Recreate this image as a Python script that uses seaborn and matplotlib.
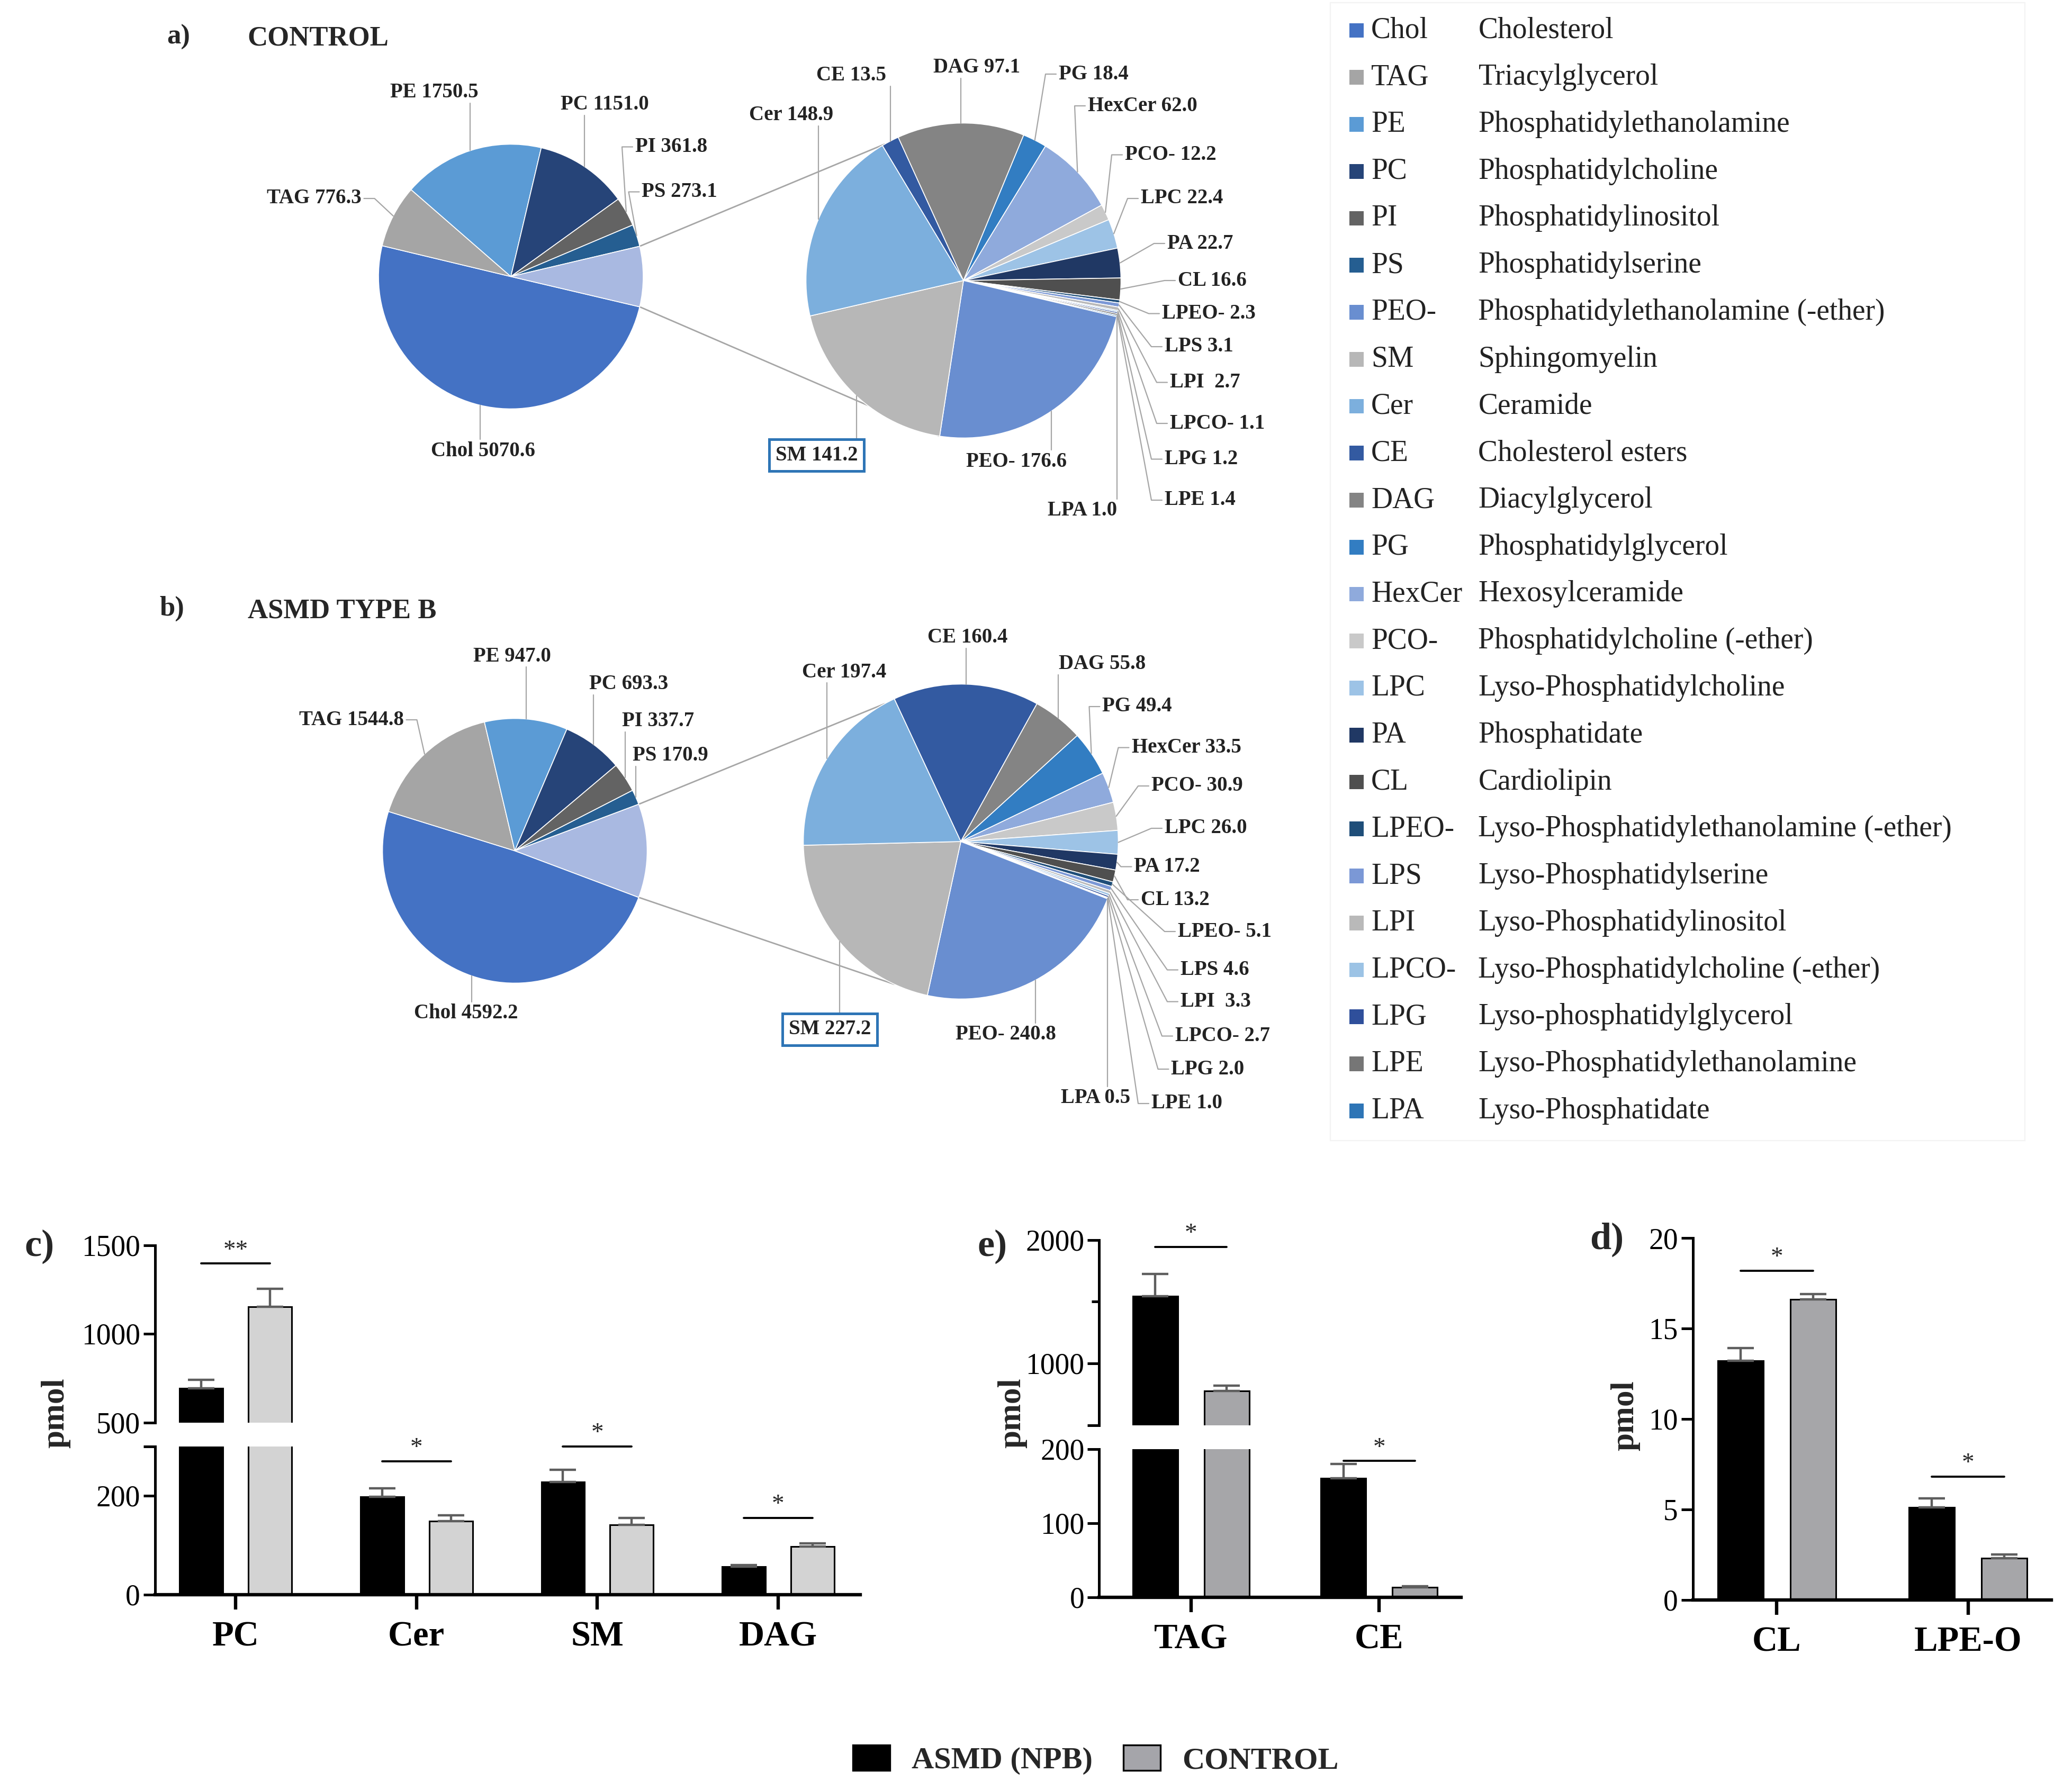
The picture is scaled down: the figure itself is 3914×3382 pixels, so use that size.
import matplotlib.pyplot as plt
import numpy as np
import pandas as pd
import seaborn as sns
from matplotlib.patches import Patch, Rectangle

# ---------------------------------------------------------------- data
main_lipids = ["Chol", "TAG", "PE", "PC", "PI", "PS"]
control_main = [5070.6, 776.3, 1750.5, 1151.0, 361.8, 273.1]
asmd_main = [4592.2, 1544.8, 947.0, 693.3, 337.7, 170.9]

minor_lipids = ["CE", "DAG", "PG", "HexCer", "PCO-", "LPC", "PA", "CL", "LPEO-",
                "LPS", "LPI", "LPCO-", "LPG", "LPE", "LPA", "PEO-", "SM", "Cer"]
control_minor = [13.5, 97.1, 18.4, 62.0, 12.2, 22.4, 22.7, 16.6, 2.3,
                 3.1, 2.7, 1.1, 1.2, 1.4, 1.0, 176.6, 141.2, 148.9]
asmd_minor = [160.4, 55.8, 49.4, 33.5, 30.9, 26.0, 17.2, 13.2, 5.1,
              4.6, 3.3, 2.7, 2.0, 1.0, 0.5, 240.8, 227.2, 197.4]

legend_abbr = ["Chol", "TAG", "PE", "PC", "PI", "PS", "PEO-", "SM", "Cer", "CE",
               "DAG", "PG", "HexCer", "PCO-", "LPC", "PA", "CL", "LPEO-", "LPS",
               "LPI", "LPCO-", "LPG", "LPE", "LPA"]
legend_names = ["Cholesterol", "Triacylglycerol", "Phosphatidylethanolamine",
                "Phosphatidylcholine", "Phosphatidylinositol", "Phosphatidylserine",
                "Phosphatidylethanolamine (-ether)", "Sphingomyelin", "Ceramide",
                "Cholesterol esters", "Diacylglycerol", "Phosphatidylglycerol",
                "Hexosylceramide", "Phosphatidylcholine (-ether)",
                "Lyso-Phosphatidylcholine", "Phosphatidate", "Cardiolipin",
                "Lyso-Phosphatidylethanolamine (-ether)", "Lyso-Phosphatidylserine",
                "Lyso-Phosphatidylinositol", "Lyso-Phosphatidylcholine (-ether)",
                "Lyso-phosphatidylglycerol", "Lyso-Phosphatidylethanolamine",
                "Lyso-Phosphatidate"]

groups = ["ASMD (NPB)", "CONTROL"]

c_lipids = ["PC", "Cer", "SM", "DAG"]
c_asmd = [693.3, 197.4, 227.2, 55.8]
c_asmd_err = [46, 17, 25, 4]
c_ctrl = [1151.0, 148.9, 141.2, 97.1]
c_ctrl_err = [103, 11, 14, 6]
c_sig_y = [1396, 270, 300, 155]
c_sig = ["**", "*", "*", "*"]

e_lipids = ["TAG", "CE"]
e_asmd = [1544.8, 160.4]
e_asmd_err = [178, 19]
e_ctrl = [776.3, 13.5]
e_ctrl_err = [42, 1.5]
e_sig_y = [1942, 209]
e_sig = ["*", "*"]

d_lipids = ["CL", "LPE-O"]
d_asmd = [13.2, 5.1]
d_asmd_err = [0.7, 0.5]
d_ctrl = [16.6, 2.3]
d_ctrl_err = [0.3, 0.2]
d_sig_y = [18.2, 6.8]
d_sig = ["*", "*"]

LIPID_COLORS = {
    "Chol": "#4472C4", "TAG": "#A5A5A5", "PE": "#5B9BD5", "PC": "#264478",
    "PI": "#636363", "PS": "#255E91", "PEO-": "#698ED0", "SM": "#B7B7B7",
    "Cer": "#7CAFDD", "CE": "#335AA1", "DAG": "#848484", "PG": "#327DC2",
    "HexCer": "#8FAADC", "PCO-": "#C9C9C9", "LPC": "#9DC3E6", "PA": "#203864",
    "CL": "#4F4F4F", "LPEO-": "#1F4E79", "LPS": "#7B98D6", "LPI": "#B9B9B9",
    "LPCO-": "#9CC3E5", "LPG": "#2F4F9B", "LPE": "#767676", "LPA": "#2E75B6",
}
OTHER_COLOR = "#A9B9E1"

# ---------------------------------------------------------------- layout
W, H = 1565.6, 1352.8      # layout grid: reference pixels / 2.5
LEADER = "#A6A6A6"

LAYOUT_A_MAIN = {
    "PE": (328, 70, "center", "down"), "PC": (457, 79, "center", "down"),
    "PI": (480, 111, "left", "side"), "PS": (485, 145, "left", "side"),
    "TAG": (273, 150, "right", "side"), "Chol": (365, 341, "center", "up"),
}
LAYOUT_A_MINOR = {
    "Cer": (598, 87, "center", "down"), "CE": (643, 57, "center", "down"),
    "DAG": (738, 51, "center", "down"), "PG": (800, 56, "left", "side"),
    "HexCer": (822, 80, "left", "side"), "PCO-": (850, 117, "left", "side"),
    "LPC": (862, 150, "left", "side"), "PA": (882, 184, "left", "side"),
    "CL": (890, 212, "left", "side"), "LPEO-": (878, 237, "left", "side"),
    "LPS": (880, 262, "left", "side"), "LPI": (884, 289, "left", "side"),
    "LPCO-": (884, 320, "left", "side"), "LPG": (880, 347, "left", "side"),
    "LPE": (880, 378, "left", "side"), "LPA": (818, 386, "center", "up"),
    "PEO-": (768, 349, "center", "up"), "SM": (617, 344, "center", "up"),
}
LAYOUT_B_MAIN = {
    "PE": (387, 496, "center", "down"), "PC": (475, 517, "center", "down"),
    "PI": (470, 545, "left", "down"), "PS": (478, 571, "left", "down"),
    "TAG": (305, 544, "right", "side"), "Chol": (352, 766, "center", "up"),
}
LAYOUT_B_MINOR = {
    "Cer": (638, 508, "center", "down"), "CE": (731, 482, "center", "down"),
    "DAG": (800, 502, "left", "down"), "PG": (833, 534, "left", "side"),
    "HexCer": (855, 565, "left", "side"), "PCO-": (870, 594, "left", "side"),
    "LPC": (880, 626, "left", "side"), "PA": (857, 655, "left", "side"),
    "CL": (862, 680, "left", "side"), "LPEO-": (890, 704, "left", "side"),
    "LPS": (892, 733, "left", "side"), "LPI": (892, 757, "left", "side"),
    "LPCO-": (888, 783, "left", "side"), "LPG": (885, 808, "left", "side"),
    "LPE": (870, 834, "left", "side"), "LPA": (828, 830, "center", "up"),
    "PEO-": (760, 782, "center", "up"), "SM": (627, 778, "center", "up"),
}


def Y(y):
    return H - y


def fig_rect(x0, x1, y_top, y_bot):
    return [x0 / W, 1 - y_bot / H, (x1 - x0) / W, (y_bot - y_top) / H]


def pie_label(name, value):
    sep = "  " if name == "LPI" else " "
    return f"{name}{sep}{value:.1f}"


def draw_pie(ax, names, values, center, radius, start, colors, layout):
    cx, cy = center[0], Y(center[1])
    wedges, _ = ax.pie(values, colors=colors, center=(cx, cy), radius=radius,
                       startangle=start, counterclock=False, frame=True,
                       wedgeprops=dict(edgecolor="white", linewidth=0.6))
    for w, name, val in zip(wedges, names, values):
        if name not in layout:
            continue
        tx, ty, ha, mode = layout[name]
        ty = Y(ty)
        mid = np.deg2rad((w.theta1 + w.theta2) / 2)
        ex, ey = cx + radius * np.cos(mid), cy + radius * np.sin(mid)
        boxed = name == "SM"
        if mode == "down":
            xs, ys = [ex, ex], [ty - 8, ey]
        elif mode == "up":
            xs, ys = [ex, ex], [ty + (13 if boxed else 9), ey]
        else:
            sgn = -1 if ha == "left" else 1
            xs, ys = [ex, tx + sgn * 10, tx + sgn * 2], [ey, ty, ty]
        ax.plot(xs, ys, color=LEADER, lw=0.8, zorder=1)
        kw = {}
        if boxed:
            kw["bbox"] = dict(boxstyle="square,pad=0.3", fc="white", ec="#2E75B6", lw=1.8)
        ax.text(tx, ty, pie_label(name, val), ha=ha, va="center", fontsize=14,
                fontweight="bold", color="#222222", **kw)
    return wedges


def bar_pie(ax, main_vals, minor_vals, c_left, c_right, top_ang, bot_ang,
            lay_main, lay_minor, minor_start):
    r_l, r_r = 100, 119
    vals = main_vals + [sum(minor_vals)]
    names = main_lipids + ["other"]
    cols = [LIPID_COLORS[n] for n in main_lipids] + [OTHER_COLOR]
    other_deg = 360 * vals[-1] / sum(vals)
    wl = draw_pie(ax, names, vals, c_left, r_l, -other_deg / 2, cols, lay_main)
    draw_pie(ax, minor_lipids, minor_vals, c_right, r_r, minor_start,
             [LIPID_COLORS[n] for n in minor_lipids], lay_minor)
    other = wl[-1]
    for a_l, a_r in ((other.theta2, top_ang), (other.theta1, bot_ang)):
        al, ar = np.deg2rad(a_l), np.deg2rad(a_r)
        ax.plot([c_left[0] + r_l * np.cos(al), c_right[0] + r_r * np.cos(ar)],
                [Y(c_left[1]) + r_l * np.sin(al), Y(c_right[1]) + r_r * np.sin(ar)],
                color=LEADER, lw=1.0, zorder=0)


def bar_panel(axes, lipids, asmd, asmd_err, ctrl, ctrl_err, ctrl_color):
    n = len(lipids)
    df = pd.DataFrame({"lipid": lipids * 2,
                       "group": [groups[0]] * n + [groups[1]] * n,
                       "value": asmd + ctrl})
    err = np.array(asmd_err + ctrl_err, dtype=float)
    xs = None
    for ax in axes:
        sns.barplot(data=df, x="lipid", y="value", hue="group", order=lipids,
                    hue_order=groups, palette=["black", ctrl_color], width=0.76,
                    gap=0.37, errorbar=None, edgecolor="black", linewidth=1.1,
                    legend=False, ax=ax)
        xs = [p.get_x() + p.get_width() / 2 for p in ax.patches[:2 * n]]
        ax.errorbar(xs, df["value"], yerr=[np.zeros(2 * n), err], fmt="none",
                    ecolor="#5E5E5E", elinewidth=1.6, capsize=9, capthick=1.6)
        ax.set_xlabel("")
        ax.set_ylabel("")
        ax.set_facecolor("none")
        sns.despine(ax=ax)
        ax.spines["left"].set_linewidth(1.8)
        ax.spines["bottom"].set_linewidth(2.3)
        ax.tick_params(axis="y", width=1.8, length=8, labelsize=20, pad=2)
    return xs


def add_sig(axes, xs, sig_y, sig):
    n = len(sig_y)
    for i, (yv, s) in enumerate(zip(sig_y, sig)):
        ax = axes[-1]
        if len(axes) > 1 and yv > axes[-1].get_ylim()[1] + 1e-9:
            ax = axes[0]
        ax.plot([xs[i], xs[i + n]], [yv, yv], color="black", lw=1.4, clip_on=False)
        ax.annotate(s, xy=((xs[i] + xs[i + n]) / 2, yv), xytext=(0, 1),
                    textcoords="offset points", ha="center", va="bottom",
                    fontsize=17, annotation_clip=False)


def style_upper(ax):
    ax.spines["bottom"].set_visible(False)
    ax.tick_params(axis="x", bottom=False, labelbottom=False)


def style_lower(ax):
    ax.tick_params(axis="x", width=2.3, length=10, labelsize=24, pad=8)
    for t in ax.get_xticklabels():
        t.set_fontweight("bold")


sns.set_theme(style="ticks")
plt.rcParams["font.family"] = ["Liberation Serif", "DejaVu Serif"]
plt.rcParams["axes.edgecolor"] = "black"
plt.rcParams["xtick.color"] = "black"
plt.rcParams["ytick.color"] = "black"

fig = plt.figure(figsize=(19.57, 16.91), dpi=200)

# ---------------------------------------------------------------- pies + legend
ax0 = fig.add_axes([0, 0, 1, 1])
bar_pie(ax0, control_main, control_minor, (386, 209), (728, 212), 120, -99,
        LAYOUT_A_MAIN, LAYOUT_A_MINOR, 121)
bar_pie(ax0, asmd_main, asmd_minor, (389, 643), (726, 636), 119, -115,
        LAYOUT_B_MAIN, LAYOUT_B_MINOR, 115)

ax0.text(135, Y(28), "a)", ha="center", va="center", fontsize=19, fontweight="bold")
ax0.text(187, Y(29), "CONTROL", ha="left", va="center", fontsize=19, fontweight="bold")
ax0.text(130, Y(460), "b)", ha="center", va="center", fontsize=19, fontweight="bold")
ax0.text(187, Y(462), "ASMD TYPE B", ha="left", va="center", fontsize=19, fontweight="bold")

ax0.add_patch(Rectangle((1005, Y(862)), 525, 860, fill=False, ec="#F3F3F3", lw=0.8))
leg_y = [Y(23 + i * 35.5) for i in range(len(legend_abbr))]
ax0.scatter([1025] * len(legend_abbr), leg_y, marker="s", s=100,
            c=[LIPID_COLORS[a] for a in legend_abbr], linewidths=0)
for yy, ab, nm in zip(leg_y, legend_abbr, legend_names):
    ax0.text(1036, yy, ab, ha="left", va="center", fontsize=20, color="#222222")
    ax0.text(1117, yy, nm, ha="left", va="center", fontsize=20, color="#222222")

ax0.set_xlim(0, W)
ax0.set_ylim(0, H)
ax0.set_aspect("auto")
ax0.axis("off")

# ---------------------------------------------------------------- c)
axc_up = fig.add_axes(fig_rect(117, 650, 941, 1075))
axc_lo = fig.add_axes(fig_rect(117, 650, 1093, 1205))
xs_c = bar_panel([axc_up, axc_lo], c_lipids, c_asmd, c_asmd_err, c_ctrl, c_ctrl_err,
                 "#D3D3D3")
for ax in (axc_up, axc_lo):
    ax.set_xlim(-0.447, 3.454)
axc_up.set_ylim(500, 1500)
axc_up.set_yticks([500, 1000, 1500])
axc_lo.set_ylim(0, 300)
axc_lo.set_yticks([0, 200, 300], ["0", "200", ""])
style_upper(axc_up)
style_lower(axc_lo)
add_sig([axc_up, axc_lo], xs_c, c_sig_y, c_sig)

# ---------------------------------------------------------------- e)
axe_up = fig.add_axes(fig_rect(830.5, 1104, 937, 1077))
axe_lo = fig.add_axes(fig_rect(830.5, 1104, 1095, 1207))
xs_e = bar_panel([axe_up, axe_lo], e_lipids, e_asmd, e_asmd_err, e_ctrl, e_ctrl_err,
                 "#A5A5AA")
for ax in (axe_up, axe_lo):
    ax.set_xlim(-0.488, 1.435)
axe_up.set_ylim(500, 2000)
axe_up.set_yticks([500, 1000, 2000], ["", "1000", "2000"])
axe_up.set_yticks([1500], minor=True)
axe_up.tick_params(axis="y", which="minor", width=1.8, length=5)
axe_lo.set_ylim(0, 200)
axe_lo.set_yticks([0, 100, 200])
style_upper(axe_up)
style_lower(axe_lo)
add_sig([axe_up, axe_lo], xs_e, e_sig_y, e_sig)

# ---------------------------------------------------------------- d)
axd = fig.add_axes(fig_rect(1279, 1550, 935.6, 1209))
xs_d = bar_panel([axd], d_lipids, d_asmd, d_asmd_err, d_ctrl, d_ctrl_err, "#A5A5AA")
axd.set_xlim(-0.44, 1.436)
axd.set_ylim(0, 20)
axd.set_yticks([0, 5, 10, 15, 20])
style_lower(axd)
add_sig([axd], xs_d, d_sig_y, d_sig)

# panel letters and y labels
for lab, x, y in (("c)", 30, 942), ("e)", 750, 942), ("d)", 1214, 937)):
    fig.text(x / W, 1 - y / H, lab, ha="center", va="center", fontsize=26,
             fontweight="bold")
for x, y in ((42, 1068), (765, 1068), (1228, 1070)):
    fig.text(x / W, 1 - y / H, "pmol", ha="center", va="center", rotation=90,
             fontsize=22, fontweight="bold")

handles = [Patch(facecolor="black", edgecolor="black", lw=1.2),
           Patch(facecolor="#A5A5AA", edgecolor="black", lw=1.2)]
fig.legend(handles, groups, loc="center", bbox_to_anchor=(828 / W, 1 - 1330 / H),
           ncol=2, frameon=False, prop={"weight": "bold", "size": 21},
           handlelength=1.2, handleheight=0.9, columnspacing=1.0, handletextpad=0.7)

fig.savefig("out.png", dpi=200)
